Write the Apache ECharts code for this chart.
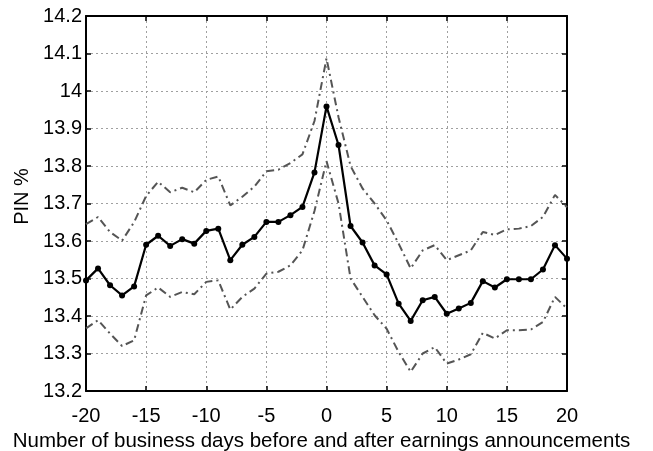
<!DOCTYPE html>
<html>
<head>
<meta charset="utf-8">
<script src="https://cdn.jsdelivr.net/npm/echarts@6/dist/echarts.min.js"></script>
<style>html,body{margin:0;padding:0;background:#fff}#c{width:653px;height:451px}</style>
</head>
<body>
<div id="c"></div>
<script>
const days = [-20,-19,-18,-17,-16,-15,-14,-13,-12,-11,-10,-9,-8,-7,-6,-5,-4,-3,-2,-1,0,1,2,3,4,5,6,7,8,9,10,11,12,13,14,15,16,17,18,19,20];
const meanPIN = [13.495,13.527,13.482,13.455,13.479,13.59,13.614,13.587,13.605,13.593,13.627,13.633,13.549,13.59,13.611,13.651,13.651,13.669,13.691,13.783,13.959,13.856,13.64,13.596,13.535,13.511,13.433,13.387,13.442,13.451,13.406,13.42,13.435,13.493,13.476,13.498,13.498,13.498,13.524,13.589,13.553];
const upperPIN = [13.645,13.664,13.624,13.601,13.65,13.72,13.758,13.73,13.742,13.73,13.763,13.772,13.695,13.718,13.745,13.786,13.79,13.808,13.831,13.92,14.087,13.93,13.80,13.74,13.70,13.655,13.593,13.527,13.575,13.589,13.549,13.562,13.575,13.624,13.616,13.631,13.633,13.64,13.664,13.723,13.69];
const lowerPIN = [13.367,13.389,13.353,13.32,13.335,13.455,13.476,13.451,13.464,13.458,13.491,13.495,13.417,13.451,13.473,13.513,13.518,13.535,13.575,13.68,13.813,13.70,13.50,13.451,13.402,13.366,13.304,13.251,13.30,13.317,13.273,13.284,13.298,13.355,13.34,13.362,13.362,13.364,13.384,13.451,13.42];
const xTitle = 'Number of business days before and after earnings announcements';
const yTitle = 'PIN %';

const pairs = arr => days.map((d,i)=>[d, arr[i]]);
const font = 'Liberation Sans, Arial, sans-serif';
const chart = echarts.init(document.getElementById('c'));
const axisLine = {show:true, onZero:false, lineStyle:{color:'#000', width:2}};
const split = {show:true, lineStyle:{color:'#a0a0a0', type:[2,3], width:1}};
const tick = {show:true, inside:true, length:5, lineStyle:{color:'#000', width:1.5}};
chart.setOption({
  animation:false,
  grid:{left:86, right:86, top:16, bottom:60, containLabel:false, outerBoundsMode:'none'},
  xAxis:[{
    type:'value', min:-20, max:20, interval:5,
    axisLine:axisLine, axisTick:tick, splitLine:split,
    axisLabel:{color:'#000', fontSize:20, fontFamily:font, margin:15},
    name:xTitle, nameLocation:'middle', nameGap:40,
    nameTextStyle:{color:'#000', fontSize:20.5, fontFamily:font, padding:[0,10,0,0]}
  },{
    type:'value', position:'top', min:-20, max:20, interval:5,
    axisLine:axisLine, axisTick:tick, splitLine:{show:false}, axisLabel:{show:false}
  }],
  yAxis:[{
    type:'value', min:13.2, max:14.2, interval:0.1,
    axisLine:axisLine, axisTick:tick, splitLine:split,
    axisLabel:{color:'#000', fontSize:20, fontFamily:font, margin:4,
      formatter:v=>String(+v.toFixed(1))},
    name:yTitle, nameLocation:'middle', nameGap:54, nameRotate:90,
    nameTextStyle:{color:'#000', fontSize:20, fontFamily:font, padding:[0,0,0,14]}
  },{
    type:'value', position:'right', min:13.2, max:14.2, interval:0.1,
    axisLine:axisLine, axisTick:tick, splitLine:{show:false}, axisLabel:{show:false}
  }],
  series:[
    {type:'line', data:pairs(upperPIN), symbol:'none', lineStyle:{color:'#555', width:2, type:[8,4,2,4]}, z:2},
    {type:'line', data:pairs(lowerPIN), symbol:'none', lineStyle:{color:'#555', width:2, type:[8,4,2,4]}, z:2},
    {type:'line', data:pairs(meanPIN), symbol:'circle', symbolSize:6, itemStyle:{color:'#000'}, lineStyle:{color:'#000', width:2.2}, z:3}
  ]
});
</script>
</body>
</html>
